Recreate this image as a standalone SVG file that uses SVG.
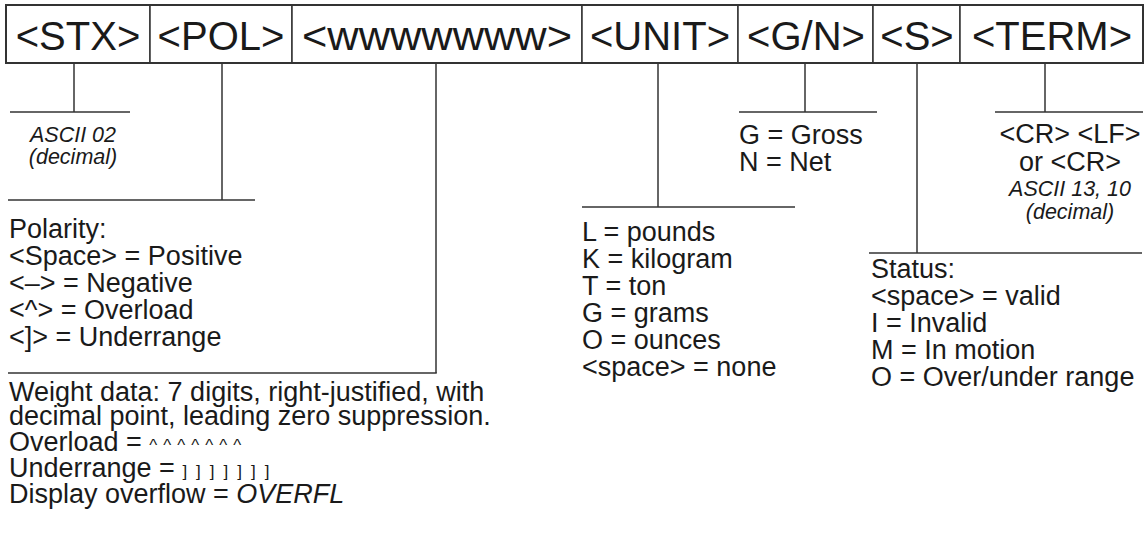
<svg xmlns="http://www.w3.org/2000/svg" width="1146" height="537" viewBox="0 0 1146 537">
<style>
.cell{fill:#fff;stroke:#333;stroke-width:1.5}
.frame{fill:none;stroke:#333;stroke-width:2}
.hd{font-family:"Liberation Sans",Arial,sans-serif;font-size:40px;fill:#1a1a1a;text-anchor:middle}
.t{font-family:"Liberation Sans",Arial,sans-serif;font-size:27px;fill:#1a1a1a}
.it{font-family:"Liberation Sans",Arial,sans-serif;font-size:21.5px;font-style:italic;fill:#1a1a1a;text-anchor:middle}
.c{text-anchor:middle}
.sm{font-size:17px}
#connectors line{stroke:#333;stroke-width:1.5}
</style>
<rect width="1146" height="537" fill="#fff"/>
<g id="header">
  <g id="cell-stx"><rect class="cell" x="6" y="5" width="144" height="58"/><text class="hd" x="78" y="50">&lt;STX&gt;</text></g>
  <g id="cell-pol"><rect class="cell" x="150" y="5" width="142" height="58"/><text class="hd" x="221" y="50">&lt;POL&gt;</text></g>
  <g id="cell-weight"><rect class="cell" x="292" y="5" width="290" height="58"/><text class="hd" x="437" y="50" textLength="270" lengthAdjust="spacingAndGlyphs">&lt;wwwwwww&gt;</text></g>
  <g id="cell-unit"><rect class="cell" x="582" y="5" width="156" height="58"/><text class="hd" x="660" y="50">&lt;UNIT&gt;</text></g>
  <g id="cell-gn"><rect class="cell" x="738" y="5" width="135" height="58"/><text class="hd" x="806" y="50">&lt;G/N&gt;</text></g>
  <g id="cell-s"><rect class="cell" x="873" y="5" width="87" height="58"/><text class="hd" x="917" y="50">&lt;S&gt;</text></g>
  <g id="cell-term"><rect class="cell" x="960" y="5" width="183" height="58"/><text class="hd" x="1052" y="50">&lt;TERM&gt;</text></g>
  <rect class="frame" x="6" y="5" width="1137" height="58"/>
</g>
<g id="connectors">
  <line x1="74" y1="63" x2="74" y2="112"/><line x1="10" y1="112" x2="130" y2="112"/>
  <line x1="222" y1="63" x2="222" y2="200"/><line x1="8" y1="200" x2="255" y2="200"/>
  <line x1="436" y1="63" x2="436" y2="373"/><line x1="8" y1="373" x2="436.75" y2="373"/>
  <line x1="658" y1="63" x2="658" y2="207"/><line x1="582" y1="207" x2="795" y2="207"/>
  <line x1="805" y1="63" x2="805" y2="112"/><line x1="739" y1="112" x2="877" y2="112"/>
  <line x1="917" y1="63" x2="917" y2="253"/><line x1="869" y1="253" x2="1142" y2="253"/>
  <line x1="1045" y1="63" x2="1045" y2="112"/><line x1="995" y1="112" x2="1143" y2="112"/>
</g>
<g id="note-stx">
  <text class="it" x="73" y="142">ASCII 02<tspan x="73" dy="22">(decimal)</tspan></text>
</g>
<g id="note-pol">
  <text class="t" x="9" y="238">Polarity:<tspan x="9" dy="27">&lt;Space&gt; = Positive</tspan><tspan x="9" dy="27">&lt;–&gt; = Negative</tspan><tspan x="9" dy="27">&lt;^&gt; = Overload</tspan><tspan x="9" dy="27">&lt;]&gt; = Underrange</tspan></text>
</g>
<g id="note-weight">
  <text class="t" x="9" y="401">Weight data: 7 digits, right-justified, with<tspan x="9" dy="24">decimal point, leading zero suppression.</tspan><tspan x="9" dy="26">Overload = </tspan><tspan class="sm" letter-spacing="6">^^^^^^^</tspan><tspan x="9" dy="26">Underrange = </tspan><tspan class="sm" letter-spacing="9">]]]]]]]</tspan><tspan x="9" dy="26">Display overflow = </tspan><tspan font-style="italic">OVERFL</tspan></text>
</g>
<g id="note-unit">
  <text class="t" x="582" y="241">L = pounds<tspan x="582" dy="27">K = kilogram</tspan><tspan x="582" dy="27">T = ton</tspan><tspan x="582" dy="27">G = grams</tspan><tspan x="582" dy="27">O = ounces</tspan><tspan x="582" dy="27">&lt;space&gt; = none</tspan></text>
</g>
<g id="note-gn">
  <text class="t" x="739" y="144">G = Gross<tspan x="739" dy="27">N = Net</tspan></text>
</g>
<g id="note-term">
  <text class="t c" x="1070" y="143">&lt;CR&gt; &lt;LF&gt;<tspan x="1070" dy="28">or &lt;CR&gt;</tspan></text>
  <text class="it" x="1070" y="196">ASCII 13, 10<tspan x="1070" dy="23">(decimal)</tspan></text>
</g>
<g id="note-s">
  <text class="t" x="871" y="278">Status:<tspan x="871" dy="27">&lt;space&gt; = valid</tspan><tspan x="871" dy="27">I = Invalid</tspan><tspan x="871" dy="27">M = In motion</tspan><tspan x="871" dy="27">O = Over/under range</tspan></text>
</g>
</svg>
